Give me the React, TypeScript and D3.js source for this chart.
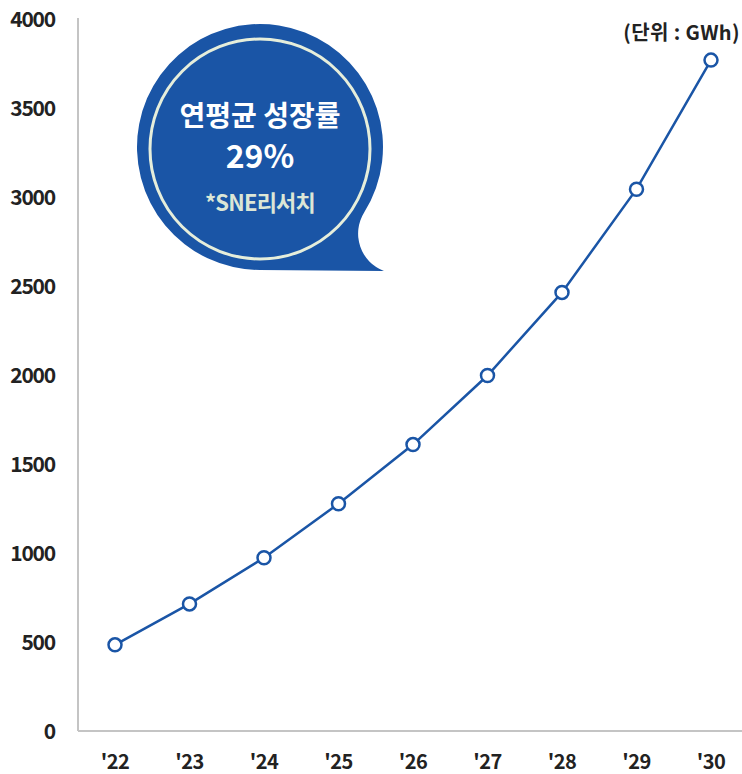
import React from "react";
import * as d3 from "d3";

const years = ["'22", "'23", "'24", "'25", "'26", "'27", "'28", "'29", "'30"];
const values = [484, 714, 973, 1277, 1609, 1997, 2464, 3044, 3769];
const yTicks = [0, 500, 1000, 1500, 2000, 2500, 3000, 3500, 4000];

const W = 742;
const H = 774;
const BLUE = "#1a55a6";
const FONT = "'Noto Sans CJK KR', 'Noto Sans', sans-serif";

export default function App() {
  const x = d3.scalePoint<string>().domain(years).range([115, 711]);
  const y = d3.scaleLinear().domain([0, 4000]).range([731, 19]);
  const line = d3
    .line<number>()
    .x((_, i) => x(years[i]) as number)
    .y((d) => y(d));

  const cx = 260, cy = 147, R = 123;
  const ang = Math.atan2(213 - cy, 365 - cx);
  const px = cx + R * Math.cos(ang), py = cy + R * Math.sin(ang);
  const bubble = `M ${px} ${py} A ${R} ${R} 0 1 0 ${cx} ${cy + R} L 384 ${cy + R + 1} A 40 40 0 0 1 ${px} ${py} Z`;

  return (
    <svg width={W} height={H} style={{ position: "absolute", left: 0, top: 0 }}>
      <rect width={W} height={H} fill="#fff" />
      <line x1={78} x2={78} y1={18} y2={731} stroke="#c4c4c4" strokeWidth={2} />
      <line x1={78} x2={742} y1={731} y2={731} stroke="#c4c4c4" strokeWidth={2} />
      {yTicks.map((t) => (
        <text key={t} x={55} y={y(t)} dy="0.36em" textAnchor="end" fontFamily={FONT}
          fontWeight="bold" fontSize={21} fill="#222" letterSpacing={-1.2}>
          {t}
        </text>
      ))}
      {years.map((yr) => (
        <text key={yr} x={x(yr) as number} y={769} textAnchor="middle" fontFamily={FONT}
          fontWeight="bold" fontSize={20} fill="#222" letterSpacing={-0.5}>
          {yr}
        </text>
      ))}
      <text x={740} y={40} textAnchor="end" fontFamily={FONT} fontWeight="bold" fontSize={20}
        fill="#222" letterSpacing={0.4}>
        (단위 : GWh)
      </text>
      <path d={bubble} fill={BLUE} />
      <circle cx={cx} cy={cy + 2} r={110} fill="none" stroke="#e6eedb" strokeWidth={3} />
      <text x={cx} y={126} textAnchor="middle" fontFamily={FONT} fontWeight="bold" fontSize={28} fill="#fff">
        연평균 성장률
      </text>
      <text x={cx} y={168} textAnchor="middle" fontFamily={FONT} fontWeight="bold" fontSize={32} fill="#fff">
        29%
      </text>
      <text x={cx} y={211} textAnchor="middle" fontFamily={FONT} fontWeight="bold" fontSize={22}
        fill="#dce6d6" letterSpacing={-0.8}>
        *SNE리서치
      </text>
      <path d={line(values) || ""} fill="none" stroke={BLUE} strokeWidth={2.5} />
      {values.map((v, i) => (
        <circle key={i} cx={x(years[i]) as number} cy={y(v)} r={6.5} fill="#fff" stroke={BLUE} strokeWidth={2.5} />
      ))}
    </svg>
  );
}
